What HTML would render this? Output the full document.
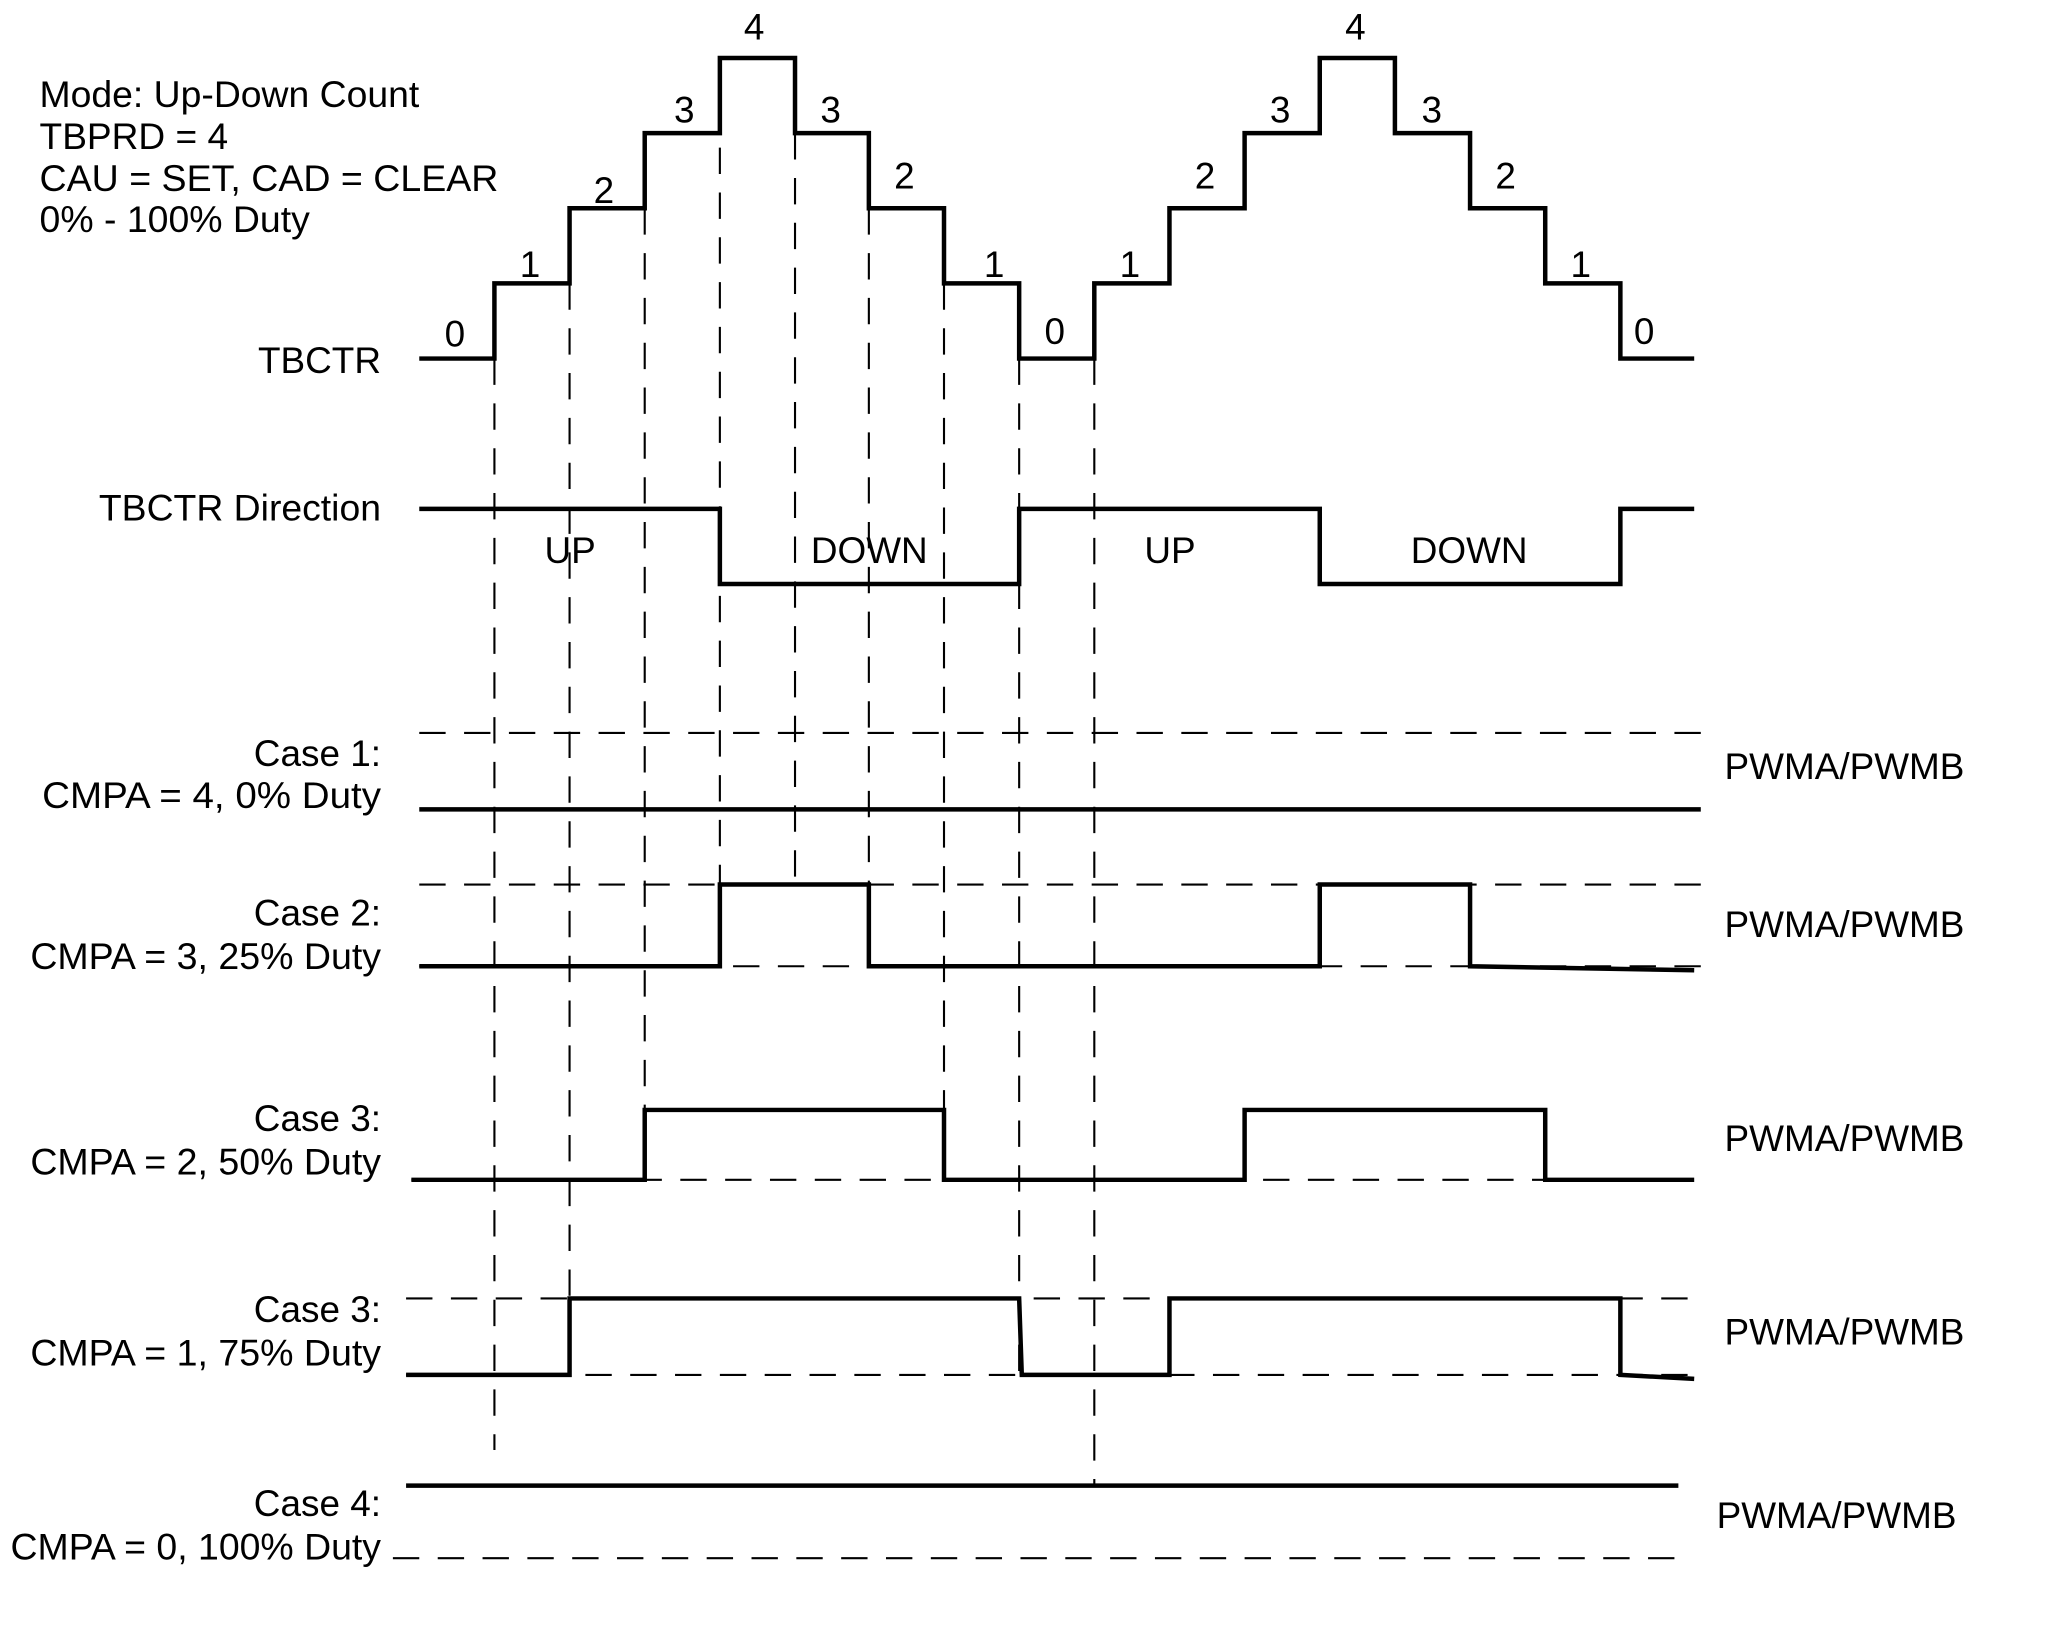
<!DOCTYPE html>
<html><head><meta charset="utf-8"><style>html,body{margin:0;padding:0;background:#fff}svg{display:block}</style></head>
<body>
<svg width="2066" height="1628" viewBox="0 0 1567 1235" preserveAspectRatio="none" xmlns="http://www.w3.org/2000/svg">
<g font-family="Liberation Sans, Arial, sans-serif" font-size="28" fill="#000">
<text x="30" y="81" textLength="288" lengthAdjust="spacingAndGlyphs">Mode: Up-Down Count</text>
<text x="30" y="113" textLength="143" lengthAdjust="spacingAndGlyphs">TBPRD = 4</text>
<text x="30" y="145" textLength="348" lengthAdjust="spacingAndGlyphs">CAU = SET, CAD = CLEAR</text>
<text x="30" y="176" textLength="205" lengthAdjust="spacingAndGlyphs">0% - 100% Duty</text>
<g text-anchor="end">
<text x="289" y="283">TBCTR</text>
<text x="289" y="395" textLength="214" lengthAdjust="spacingAndGlyphs">TBCTR Direction</text>
<text x="289" y="581">Case 1:</text>
<text x="289" y="613" textLength="257" lengthAdjust="spacingAndGlyphs">CMPA = 4,  0% Duty</text>
<text x="289" y="702">Case 2:</text>
<text x="289" y="735" textLength="266" lengthAdjust="spacingAndGlyphs">CMPA = 3, 25% Duty</text>
<text x="289" y="858">Case 3:</text>
<text x="289" y="891" textLength="266" lengthAdjust="spacingAndGlyphs">CMPA = 2, 50% Duty</text>
<text x="289" y="1003">Case 3:</text>
<text x="289" y="1036" textLength="266" lengthAdjust="spacingAndGlyphs">CMPA = 1, 75% Duty</text>
<text x="289" y="1150">Case 4:</text>
<text x="289" y="1183" textLength="281" lengthAdjust="spacingAndGlyphs">CMPA = 0, 100% Duty</text>
</g>
<text x="1308" y="591">PWMA/PWMB</text>
<text x="1308" y="711">PWMA/PWMB</text>
<text x="1308" y="873">PWMA/PWMB</text>
<text x="1308" y="1020">PWMA/PWMB</text>
<text x="1302" y="1159">PWMA/PWMB</text>
<text x="413" y="427">UP</text>
<text x="615" y="427">DOWN</text>
<text x="868" y="427">UP</text>
<text x="1070" y="427">DOWN</text>
<g text-anchor="middle">
<text x="345" y="263">0</text><text x="402" y="210">1</text><text x="458" y="154">2</text><text x="519" y="93">3</text><text x="572" y="30">4</text><text x="630" y="93">3</text><text x="686" y="143">2</text><text x="754" y="210">1</text><text x="800" y="261">0</text>
<text x="857" y="210">1</text><text x="914" y="143">2</text><text x="971" y="93">3</text><text x="1028" y="30">4</text><text x="1086" y="93">3</text><text x="1142" y="143">2</text><text x="1199" y="210">1</text><text x="1247" y="261">0</text>
</g>
</g>
<g stroke="#000" stroke-width="1.6" stroke-dasharray="20,14" fill="none">
<line x1="375" y1="272" x2="375" y2="1100"/>
<line x1="432" y1="215" x2="432" y2="1043"/>
<line x1="489" y1="158" x2="489" y2="895"/>
<line x1="546" y1="44" x2="546" y2="733"/>
<line x1="603" y1="101" x2="603" y2="671"/>
<line x1="659" y1="158" x2="659" y2="733"/>
<line x1="716" y1="215" x2="716" y2="895"/>
<line x1="773" y1="272" x2="773" y2="1043"/>
<line x1="830" y1="272" x2="830" y2="1127"/>
<line x1="318" y1="556" x2="1290" y2="556"/>
<line x1="318" y1="671" x2="1290" y2="671"/>
<line x1="318" y1="733" x2="1290" y2="733"/>
<line x1="312" y1="895" x2="1285" y2="895"/>
<line x1="308" y1="985" x2="1285" y2="985"/>
<line x1="308" y1="1043" x2="1285" y2="1043"/>
<line x1="298" y1="1182" x2="1270" y2="1182"/>
</g>
<g stroke="#000" stroke-width="3.4" fill="none">
<polyline points="318,272 375,272 375,215 432,215 432,158 489,158 489,101 546,101 546,44 603,44 603,101 659,101 659,158 716,158 716,215 773,215 773,272 830,272 830,215 887,215 887,158 944,158 944,101 1001,101 1001,44 1058,44 1058,101 1115,101 1115,158 1172,158 1172,215 1229,215 1229,272 1285,272"/>
<polyline points="318,386 546,386 546,443 773,443 773,386 1001,386 1001,443 1229,443 1229,386 1285,386"/>
<line x1="318" y1="614" x2="1290" y2="614"/>
<polyline points="318,733 546,733 546,671 659,671 659,733 1001,733 1001,671 1115,671 1115,733 1285,736"/>
<polyline points="312,895 489,895 489,842 716,842 716,895 944,895 944,842 1172,842 1172,895 1285,895"/>
<polyline points="308,1043 432,1043 432,985 773,985 775,1043 887,1043 887,985 1229,985 1229,1043 1285,1046"/>
<line x1="308" y1="1127" x2="1273" y2="1127"/>
</g>
</svg>
</body></html>
